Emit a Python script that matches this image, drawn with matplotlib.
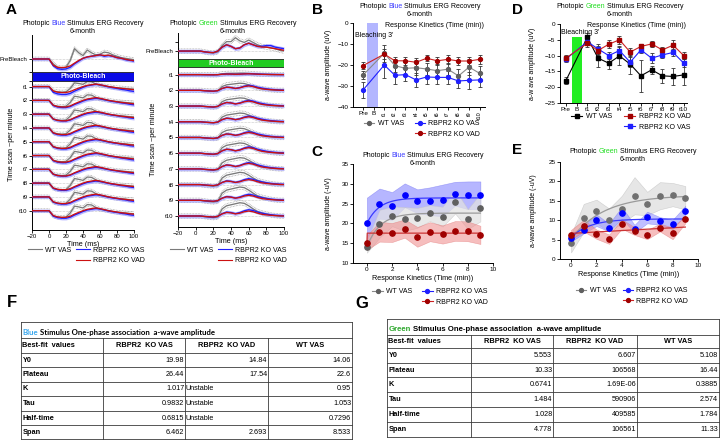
import numpy as np
import matplotlib
matplotlib.use("Agg")
import matplotlib.pyplot as plt
from matplotlib.lines import Line2D
from matplotlib.patches import Rectangle
from matplotlib.offsetbox import TextArea, HPacker, AnnotationBbox

plt.rcParams["font.family"] = ["Liberation Sans", "DejaVu Sans"]
plt.rcParams["axes.linewidth"] = 0.7
plt.rcParams["xtick.major.width"] = 0.6
plt.rcParams["ytick.major.width"] = 0.6
plt.rcParams["xtick.major.size"] = 2
plt.rcParams["ytick.major.size"] = 2
plt.rcParams["xtick.major.pad"] = 1.2
plt.rcParams["ytick.major.pad"] = 1.2

W, H = 720, 440

# ---------------- data ----------------
groups = ["WT VAS", "RBPR2 KO VAS", "RBPR2 KO VAD"]

# A: averaged ERG traces (row units), sampled every 5 ms
erg_ms = list(range(-20, 101, 5))
row_names = ["t1", "t2", "t3", "t4", "t5", "t6", "t7", "t8", "t9", "t10"]

bl_pre_wt = [0, 0, 0, 0, 0, -0.35, -0.6, -0.65, -0.6, -0.1, 0.75, 0.45, 0.25, 0.65, 0.45, 0.3, 0.35, 0.5, 0.45, 0.3, 0.2, 0.1, 0.05, 0.0, -0.05]
bl_pre_vas = [0, 0, 0, 0, 0, -0.5, -0.7, -0.75, -0.72, -0.6, -0.35, -0.15, 0.05, 0.15, 0.2, 0.25, 0.3, 0.2, 0.25, 0.2, 0.1, 0.05, -0.05, -0.1, -0.15]
bl_pre_vad = [0, 0, 0, 0, 0, -0.45, -0.6, -0.62, -0.6, -0.5, -0.3, -0.1, 0.05, 0.15, 0.2, 0.25, 0.3, 0.25, 0.28, 0.2, 0.1, 0.05, -0.02, -0.08, -0.12]
bl_row_wt = [0, 0, 0, 0, 0, -0.35, -0.42, -0.45, -0.42, -0.15, 0.3, 0.25, 0.18, 0.4, 0.38, 0.22, 0.1, 0.05, 0.0, -0.05, -0.1, -0.12, -0.15, -0.18, -0.2]
bl_row_vas = [0, 0, 0, 0, 0, -0.38, -0.48, -0.52, -0.52, -0.45, -0.3, -0.18, -0.05, 0.05, 0.1, 0.15, 0.12, 0.05, -0.02, -0.08, -0.12, -0.18, -0.22, -0.28, -0.32]
bl_row_vad = [0, 0, 0, 0, 0, -0.35, -0.45, -0.48, -0.48, -0.4, -0.25, -0.12, 0.0, 0.1, 0.15, 0.2, 0.15, 0.08, 0.0, -0.05, -0.1, -0.15, -0.18, -0.22, -0.25]
bl_scale_wt = [0.9, 1.0, 1.0, 1.0, 1.05, 1.0, 1.0, 1.1, 1.1, 1.1]
bl_scale_vas = [1.1, 1.0, 0.95, 1.0, 1.0, 1.0, 0.95, 1.0, 1.0, 1.05]
bl_scale_vad = [0.9, 1.0, 1.0, 1.0, 1.0, 1.0, 1.0, 1.0, 1.0, 1.0]

gr_pre_wt = [0, 0, 0, 0, 0, 0, -0.05, -0.1, -0.12, -0.05, 0.35, 0.6, 0.6, 0.85, 0.65, 0.55, 0.7, 0.55, 0.4, 0.3, 0.25, 0.2, 0.15, 0.05, 0.0]
gr_pre_vas = [0, 0, 0, 0, 0, 0, -0.05, -0.08, -0.1, 0.0, 0.25, 0.4, 0.3, 0.15, 0.2, 0.4, 0.5, 0.4, 0.3, 0.3, 0.35, 0.35, 0.25, 0.2, 0.15]
gr_pre_vad = [0, 0, 0, 0, 0, 0, -0.05, -0.08, -0.1, 0.0, 0.25, 0.4, 0.3, 0.15, 0.2, 0.4, 0.5, 0.4, 0.3, 0.25, 0.25, 0.2, 0.15, 0.1, 0.05]
gr_row_wt = [0, 0, 0, 0, 0, 0, -0.03, -0.06, -0.08, -0.05, 0.35, 0.5, 0.55, 0.6, 0.65, 0.62, 0.5, 0.35, 0.22, 0.15, 0.1, 0.05, 0.02, 0, 0]
gr_row_vas = [0, 0, 0, 0, 0, 0, -0.03, -0.05, -0.07, -0.02, 0.15, 0.25, 0.22, 0.15, 0.22, 0.33, 0.4, 0.35, 0.25, 0.18, 0.12, 0.08, 0.05, 0.03, 0.02]
gr_row_vad = [0, 0, 0, 0, 0, 0, -0.03, -0.05, -0.07, -0.02, 0.15, 0.25, 0.22, 0.15, 0.2, 0.3, 0.35, 0.3, 0.2, 0.12, 0.08, 0.05, 0.03, 0.01, 0]
gr_scale_wt = [0.15, 0.7, 0.8, 0.85, 0.9, 1.0, 1.1, 1.2, 1.3, 1.3]
gr_scale_vas = [0.15, 0.8, 0.9, 0.9, 0.9, 1.0, 1.0, 0.95, 0.95, 1.0]
gr_scale_vad = [0.15, 0.8, 0.9, 0.9, 0.9, 1.0, 1.0, 0.9, 0.9, 0.9]

# B / D: a-wave amplitude per time point (Pre, t1..t10; no value at B)
cats = ["Pre", "B", "t1", "t2", "t3", "t4", "t5", "t6", "t7", "t8", "t9", "t10"]
b_wt = [-24.8, -14.4, -20.3, -21.6, -21.3, -21.9, -22.7, -22.0, -25.2, -21.0, -24.0]
b_wt_err = [2.0, 4.0, 3.0, 3.0, 3.5, 3.0, 3.0, 3.0, 3.5, 4.0, 3.5]
b_vas = [-31.9, -20.0, -24.9, -24.6, -27.1, -25.7, -25.9, -25.9, -27.6, -27.3, -27.1]
b_vas_err = [4.0, 6.0, 4.0, 3.0, 3.5, 3.5, 3.0, 3.0, 3.5, 4.0, 3.5]
b_vad = [-20.3, -14.8, -18.0, -18.0, -18.7, -16.8, -18.0, -17.3, -18.1, -18.1, -17.3]
b_vad_err = [1.5, 2.5, 2.0, 2.0, 2.0, 1.5, 2.0, 2.0, 2.0, 2.0, 2.0]

d_wt = [-17.9, -4.2, -10.8, -12.4, -10.1, -12.7, -16.4, -14.5, -16.4, -16.6, -16.1]
d_wt_err = [1.2, 1.5, 2.8, 1.8, 2.8, 3.0, 5.0, 1.3, 2.3, 2.8, 3.2]
d_vad = [-10.8, -6.1, -8.4, -6.4, -5.0, -8.9, -7.1, -6.3, -8.2, -6.7, -10.0]
d_vad_err = [1.0, 1.2, 1.5, 1.2, 1.3, 1.2, 0.8, 1.0, 0.8, 1.5, 1.0]
d_vas = [-11.1, -5.6, -7.9, -10.0, -8.4, -12.1, -8.2, -10.8, -9.8, -9.0, -12.4]
d_vas_err = [1.0, 1.2, 1.5, 1.2, 1.3, 1.5, 1.0, 1.5, 1.0, 1.2, 1.2]

# C / E: recovery kinetics (minutes)
kin_t = [0, 1, 2, 3, 4, 5, 6, 7, 8, 9]
c_vas = [20.0, 25.0, 24.4, 27.1, 25.6, 25.6, 25.8, 27.5, 27.1, 27.1]
c_vas_sem = [6.5, 3.8, 3.5, 3.0, 3.0, 3.5, 4.0, 3.0, 3.5, 3.5]
c_wt = [14.1, 19.9, 21.8, 21.1, 21.4, 22.6, 21.7, 25.5, 21.1, 24.0]
c_wt_sem = [1.5, 3.5, 2.5, 3.0, 2.5, 2.0, 2.5, 3.0, 2.5, 3.5]
c_vad = [15.1, 17.9, 17.7, 18.7, 16.6, 17.9, 17.2, 18.1, 18.0, 17.1]
c_vad_sem = [1.8, 2.5, 2.4, 2.3, 2.5, 2.4, 2.3, 2.5, 2.5, 2.3]

e_wt = [4.0, 10.6, 12.3, 10.0, 12.8, 16.3, 14.3, 16.3, 16.6, 15.8]
e_wt_sem = [2.3, 3.6, 3.0, 3.0, 3.5, 4.8, 3.0, 3.5, 3.0, 3.0]
e_vas = [5.5, 7.6, 10.0, 8.1, 11.9, 7.8, 10.7, 9.8, 8.9, 12.5]
e_vas_sem = [1.0, 1.0, 1.5, 1.0, 1.5, 1.0, 1.5, 1.0, 1.2, 1.2]
e_vad = [6.3, 8.6, 6.4, 5.1, 9.0, 7.2, 6.3, 8.1, 6.6, 10.2]
e_vad_sem = [1.2, 1.5, 1.2, 1.2, 1.2, 1.0, 1.2, 1.0, 1.5, 1.0]

# F / G: one-phase association fits
fit_rows = ["Y0", "Plateau", "K", "Tau", "Half-time", "Span"]
fit_cols = ["RBPR2  KO VAS", "RBPR2  KO VAD", "WT VAS"]
f_vas = ["19.98", "26.44", "1.017", "0.9832", "0.6815", "6.462"]
f_vad = ["14.84", "17.54", "Unstable", "Unstable", "Unstable", "2.693"]
f_wt = ["14.06", "22.6", "0.95", "1.053", "0.7296", "8.533"]
g_vas = ["5.553", "10.33", "0.6741", "1.484", "1.028", "4.778"]
g_vad = ["6.607", "106568", "1.69E-06", "590906", "409585", "106561"]
g_wt = ["5.108", "16.44", "0.3885", "2.574", "1.784", "11.33"]

# ---------------- style ----------------
C_GRAY = "#7a7a7a"
C_BLUE = "#1f1fff"
C_RED = "#cc1111"
M_GRAY = "#5f5f5f"
M_RED = "#a00000"
WORD_BLUE = "#3c3cff"
WORD_GREEN = "#22dd22"

fig = plt.figure(figsize=(W / 100, H / 100), dpi=100)


def box(x0, y0, x1, y1):
    return [x0 / W, 1 - y1 / H, (x1 - x0) / W, (y1 - y0) / H]


def rich(x, y, parts, size=5.0, weight="normal", family=None, align=(0.5, 0.5)):
    kids = []
    for txt, col in parts:
        props = dict(color=col, fontsize=size, fontweight=weight)
        if family:
            props["family"] = family
        kids.append(TextArea(txt, textprops=props))
    pack = HPacker(children=kids, align="baseline", pad=0, sep=1.3)
    ab = AnnotationBbox(pack, (x, H - y), xycoords="figure pixels", frameon=False,
                        box_alignment=align, pad=0)
    fig.add_artist(ab)


def title2(x, y, word, wcol):
    rich(x, y, [("Photopic", "black"), (word, wcol), ("Stimulus ERG Recovery", "black")])
    fig.text(x / W, 1 - (y + 8.5) / H, "6-month", fontsize=5.0, ha="center", va="center")


def clean(ax, size=4.6):
    ax.spines["top"].set_visible(False)
    ax.spines["right"].set_visible(False)
    ax.tick_params(labelsize=size)


def legend3(ax, handles, labels, x, y, hl, hp, cs):
    blank = Line2D([], [], color="none")
    leg = ax.legend([handles[0], blank, handles[1], handles[2]],
                    [labels[0], "", labels[1], labels[2]], ncol=2,
                    loc="upper left", bbox_to_anchor=(x / W, 1 - y / H),
                    bbox_transform=fig.transFigure, frameon=False, fontsize=5.0,
                    handlelength=hl, handletextpad=hp, columnspacing=cs,
                    labelspacing=0.55, borderpad=0, borderaxespad=0)
    return leg


# ---------------- A: ERG traces ----------------
def erg_panel(rect, pre_y, row_y, ylim, bar_y, bar_col, pre, rows, scales, extra, ylab_xy):
    ax = fig.add_axes(rect)
    ms = np.array(erg_ms)
    for y0 in [pre_y] + row_y:
        ax.plot([-20, 100], [y0, y0], ls=(0, (1, 1.5)), color="#9a9a9a", lw=0.4, zorder=1)
    for g, col in (("wt", C_GRAY), ("vas", C_BLUE), ("vad", C_RED)):
        traces = [(pre_y, np.array(pre[g]))]
        traces += [(y0, s * np.array(rows[g])) for y0, s in zip(row_y, scales[g])]
        for y0, tr in traces:
            y = y0 + tr
            if g == "wt":
                ax.plot(ms, y + 0.14, ls=(0, (1, 1)), color="#a0a0a0", lw=0.55, zorder=2)
                ax.plot(ms, y - 0.14, ls=(0, (1, 1)), color="#a0a0a0", lw=0.55, zorder=2)
            elif g == "vas":
                ax.fill_between(ms, y - 0.12, y + 0.12, color="#a4a4ff", lw=0, alpha=0.75, zorder=2)
            ax.plot(ms, y, color=col, lw=0.95, zorder=3)
    ax.add_patch(Rectangle((-20, bar_y[0]), 120, bar_y[1] - bar_y[0], facecolor=bar_col,
                           edgecolor="#202020", lw=0.6, zorder=4))
    ax.text(40, (bar_y[0] + bar_y[1]) / 2, "Photo-Bleach", color="white", fontsize=5.0,
            fontweight="bold", ha="center", va="center", zorder=5)
    ax.set_xlim(-20, 100)
    ax.set_ylim(*ylim)
    ax.set_xticks(range(-20, 101, 20))
    ax.set_yticks([pre_y] + row_y + extra)
    ax.set_yticklabels(["PreBleach"] + row_names + [""] * len(extra))
    clean(ax, 4.3)
    ax.set_xlabel("Time (ms)", fontsize=5.2, labelpad=1)
    ax.set_ylabel("Time scan ~per minute", fontsize=5.2)
    ax.yaxis.set_label_coords(*ylab_xy)
    return ax


pre_bl = {"wt": bl_pre_wt, "vas": bl_pre_vas, "vad": bl_pre_vad}
rows_bl = {"wt": bl_row_wt, "vas": bl_row_vas, "vad": bl_row_vad}
scl_bl = {"wt": bl_scale_wt, "vas": bl_scale_vas, "vad": bl_scale_vad}
axA1 = erg_panel(box(32, 35, 134, 230), 0.0, [-(k + 1.0) for k in range(1, 11)],
                 (-12.4, 1.74), (-1.6, -0.95), "#0a0ae6", pre_bl, rows_bl, scl_bl,
                 [-0.95, -1.6], (-0.17, 0.44))

pre_gr = {"wt": gr_pre_wt, "vas": gr_pre_vas, "vad": gr_pre_vad}
rows_gr = {"wt": gr_row_wt, "vas": gr_row_vas, "vad": gr_row_vad}
scl_gr = {"wt": gr_scale_wt, "vas": gr_scale_vas, "vad": gr_scale_vad}
axA2 = erg_panel(box(178, 33, 284, 227), 0.0, [-(k + 0.5) for k in range(1, 11)],
                 (-11.2, 1.15), (-1.02, -0.51), "#22cc22", pre_gr, rows_gr, scl_gr,
                 [0.57], (-0.2, 0.45))

title2(83, 23, "Blue", WORD_BLUE)
title2(233, 23, "Green", WORD_GREEN)

line_h = [Line2D([], [], color=C_GRAY, lw=0.8), Line2D([], [], color=C_BLUE, lw=0.8),
          Line2D([], [], color=C_RED, lw=0.8)]
legend3(axA1, line_h, groups, 28, 246.5, 2.0, 0.4, 0.8)
legend3(axA2, line_h, groups, 170, 246.5, 2.0, 0.4, 0.8)


# ---------------- B / D: time points ----------------
def point_panel(rect, xlim, ylim, yticks, series, mk, rot):
    ax = fig.add_axes(rect)
    xk = [0] + list(range(2, 12))
    for vals, err, lc, mc in series:
        ax.errorbar(xk, vals, yerr=err, color=lc, lw=0.8, marker=mk, ms=2.8, mfc=mc, mec=mc,
                    ecolor="#333333", elinewidth=0.6, capsize=1.4, capthick=0.6, zorder=3)
    ax.set_xlim(*xlim)
    ax.set_ylim(*ylim)
    ax.set_yticks(yticks)
    ax.set_xticks(range(len(cats)))
    ax.set_xticklabels(cats)
    clean(ax)
    if rot:
        for lab in ax.get_xticklabels()[2:]:
            lab.set_rotation(90)
            lab.set_fontsize(4.1)
    return ax


axB = point_panel(box(353, 23, 485, 107), (-0.95, 11.5), (-40, 0), [0, -10, -20, -30, -40],
                  [(b_wt, b_wt_err, "#8a8a8a", M_GRAY), (b_vas, b_vas_err, C_BLUE, C_BLUE),
                   (b_vad, b_vad_err, "#cc2222", M_RED)], "o", True)
axB.axvspan(0.4, 1.45, color="#b3b6ff", lw=0, zorder=1)
axB.text(0.62, 0.965, "Response Kinetics (Time (min))", transform=axB.transAxes,
         fontsize=5.0, ha="center", va="center")
axB.text(0.015, 0.85, "Bleaching 3'", transform=axB.transAxes, fontsize=5.0, ha="left", va="center")
axB.set_ylabel("a-wave amplitude (uV)", fontsize=5.0)
axB.yaxis.set_label_coords(-0.16, 0.5)
title2(420, 6, "Blue", WORD_BLUE)
bh = [Line2D([], [], color="#8a8a8a", lw=0.8, marker="o", ms=2.8, mfc=M_GRAY, mec=M_GRAY),
      Line2D([], [], color=C_BLUE, lw=0.8, marker="o", ms=2.8),
      Line2D([], [], color="#cc2222", lw=0.8, marker="o", ms=2.8, mfc=M_RED, mec=M_RED)]
legend3(axB, bh, groups, 364, 120, 1.5, 0.45, 1.6)

axD = point_panel(box(560, 24, 687, 103), (-0.55, 11.3), (-25, 0), [0, -5, -10, -15, -20, -25],
                  [(d_wt, d_wt_err, "black", "black"), (d_vas, d_vas_err, C_BLUE, C_BLUE),
                   (d_vad, d_vad_err, "#cc2222", M_RED)], "s", False)
axD.bar(1, 21, bottom=-25, width=0.93, color="#22ee22", lw=0, zorder=2)
axD.text(0.606, 0.985, "Response Kinetics (Time (min))", transform=axD.transAxes,
         fontsize=5.0, ha="center", va="center")
axD.text(0.01, 0.89, "Bleaching 3'", transform=axD.transAxes, fontsize=5.0, ha="left", va="center")
axD.set_ylabel("a-w ave amplitude (uV)", fontsize=5.0)
axD.yaxis.set_label_coords(-0.19, 0.5)
title2(620, 6, "Green", WORD_GREEN)
dh = [Line2D([], [], color="black", lw=0.8, marker="s", ms=2.8),
      Line2D([], [], color="#cc2222", lw=0.8, marker="s", ms=2.8, mfc=M_RED, mec=M_RED),
      Line2D([], [], color=C_BLUE, lw=0.8, marker="s", ms=2.8)]
legend3(axD, dh, ["WT VAS", "RBPR2 KO VAD", "RBPR2 KO VAS"], 571, 113, 1.6, 0.5, 1.8)


# ---------------- C / E: kinetics with fits ----------------
def to_num(s):
    try:
        return float(s)
    except ValueError:
        return None


def one_phase(tab):
    y0, plat, k = to_num(tab[0]), to_num(tab[1]), to_num(tab[2])
    tt = np.linspace(0, 9, 300)
    if k is None:
        yy = np.where(tt > 0, plat, y0)
    else:
        yy = y0 + (plat - y0) * (1 - np.exp(-k * tt))
    return tt, yy


def kin_panel(rect, xlim, ylim, yticks, series):
    ax = fig.add_axes(rect)
    t = np.array(kin_t)
    for vals, sem, band, edge, a, z in series:
        v, s = np.array(vals), np.array(sem)
        ax.fill_between(t, v - s, v + s, color=band, alpha=a, lw=0.4, edgecolor=edge, zorder=z)
    ax.set_xlim(*xlim)
    ax.set_ylim(*ylim)
    ax.set_yticks(yticks)
    ax.set_xticks(range(0, 11, 2))
    clean(ax)
    ax.set_xlabel("Response Kinetics (Time (min))", fontsize=5.2, labelpad=1.5)
    return ax


axC = kin_panel(box(353, 164, 493, 263), (-1.1, 10), (10, 35), range(10, 36, 5),
                [(c_vas, c_vas_sem, "#7b7bff", "#6a6af0", 0.55, 1),
                 (c_wt, c_wt_sem, "#e2e2e2", "#c8c8c8", 0.75, 2),
                 (c_vad, c_vad_sem, "#f08a8a", "#e07070", 0.55, 2)])
for tab, lc in ((f_wt, "#9a9a9a"), (f_vas, "#3a3aff"), (f_vad, "#cc3333")):
    tt, yy = one_phase(tab)
    axC.plot(tt, yy, color=lc, lw=0.9, zorder=3)
for vals, mc in ((c_wt, M_GRAY), (c_vas, "#0000ff"), (c_vad, M_RED)):
    axC.plot(kin_t, vals, "o", ms=3.8, color=mc, zorder=4)
axC.set_ylabel("a-wave amplitude (-uV)", fontsize=5.0)
axC.yaxis.set_label_coords(-0.15, 0.5)
title2(423, 155, "Blue", WORD_BLUE)

axE = kin_panel(box(560, 162, 698, 259), (-0.87, 10), (0, 25), range(0, 26, 5),
                [(e_wt, e_wt_sem, "#dcdcdc", "#c0c0c0", 0.7, 1),
                 (e_vas, e_vas_sem, "#8c8cff", "#7070f0", 0.55, 2),
                 (e_vad, e_vad_sem, "#f08a8a", "#e07070", 0.55, 2)])
for tab, lc in ((g_wt, "#9a9a9a"), (g_vas, "#3a3aff"), (g_vad, "#cc3333")):
    tt, yy = one_phase(tab)
    axE.plot(tt, yy, color=lc, lw=0.9, zorder=3)
for vals, mc in ((e_wt, "#707070"), (e_vas, "#0000ff"), (e_vad, M_RED)):
    axE.plot(kin_t, vals, "o", ms=3.8, color=mc, zorder=4)
axE.set_ylabel("a-wave amplitude (-uV)", fontsize=5.0)
axE.yaxis.set_label_coords(-0.17, 0.5)
title2(633, 151, "Green", WORD_GREEN)

kh = [Line2D([], [], color="#8a8a8a", lw=0.8, marker="o", ms=2.8, mfc=M_GRAY, mec=M_GRAY),
      Line2D([], [], color=C_BLUE, lw=0.8, marker="o", ms=2.8),
      Line2D([], [], color="#cc2222", lw=0.8, marker="o", ms=2.8, mfc=M_RED, mec=M_RED)]
legend3(axC, kh, groups, 372, 288, 1.6, 0.45, 1.3)
legend3(axE, kh, groups, 576, 287, 1.5, 0.45, 1.0)

# ---------------- F / G: tables ----------------
axT = fig.add_axes([0, 0, 1, 1])
axT.set_xlim(0, W)
axT.set_ylim(H, 0)
axT.axis("off")


def draw_table(xs, ys, title_parts, title_family, cols):
    lc = "#3a3a3a"
    x0, x1 = xs[0], xs[-1]
    for y in ys:
        axT.plot([x0, x1], [y, y], color=lc, lw=0.6)
    axT.plot([x0, x0], [ys[0], ys[-1]], color=lc, lw=0.6)
    axT.plot([x1, x1], [ys[0], ys[-1]], color=lc, lw=0.6)
    for x in xs[1:-1]:
        axT.plot([x, x], [ys[1], ys[-1]], color=lc, lw=0.6)
    rich(x0 + 1.5, (ys[0] + ys[1]) / 2 + 2, title_parts, size=5.6, weight="bold",
         family=title_family, align=(0, 0.5))
    yc = (ys[1] + ys[2]) / 2
    axT.text(x0 + 1.5, yc, "Best-fit  values", fontsize=5.3, fontweight="bold", va="center")
    for j, name in enumerate(fit_cols):
        axT.text((xs[j + 1] + xs[j + 2]) / 2, yc, name, fontsize=5.3, fontweight="bold",
                 ha="center", va="center")
    for i, rname in enumerate(fit_rows):
        yc = (ys[i + 2] + ys[i + 3]) / 2
        axT.text(x0 + 1.5, yc, rname, fontsize=5.3, fontweight="bold", va="center")
        for j, vals in enumerate(cols):
            v = vals[i]
            if v == "Unstable":
                axT.text(xs[j + 1] + 1, yc, v, fontsize=5.2, ha="left", va="center")
            else:
                axT.text(xs[j + 2] - 0.8, yc, v, fontsize=5.2, ha="right", va="center")


draw_table([21, 103, 185, 268, 352], [322, 338, 353, 367, 382, 396, 411, 425, 439.5],
           [("Blue", "#3aa8ee"), ("Stimulus One-phase association  a-wave amplitude", "black")],
           "Lato", [f_vas, f_vad, f_wt])
draw_table([387, 471, 553, 637, 719], [319, 335, 348, 363, 377, 392, 407, 422, 437],
           [("Green", "#2fa82f"), ("Stimulus One-phase association  a-wave amplitude", "black")],
           None, [g_vas, g_vad, g_wt])

# ---------------- panel letters ----------------
for lab, x, y, s in (("A", 6, 3, 11), ("B", 312, 3, 11), ("C", 311, 145, 11), ("D", 512, 3, 11),
                     ("E", 512, 143, 11), ("F", 7, 295, 12), ("G", 355, 296, 12)):
    fig.text(x / W, 1 - y / H, lab, fontsize=s, fontweight="bold", ha="left", va="top")

fig.savefig("out.png", dpi=100)
